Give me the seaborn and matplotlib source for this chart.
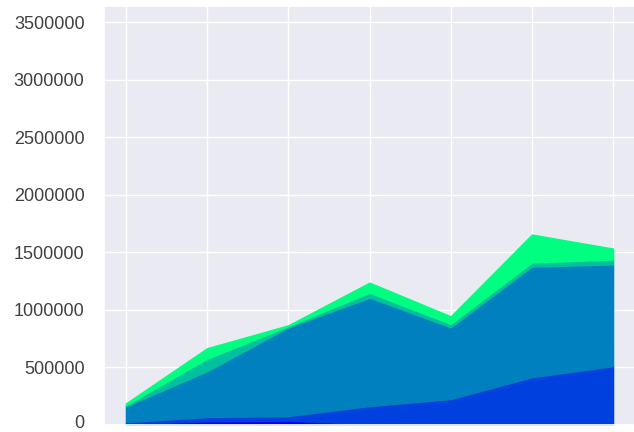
import numpy as np
import pandas as pd
import matplotlib
matplotlib.use('Agg')
import matplotlib.pyplot as plt
import matplotlib.transforms as mtransforms
from matplotlib.ticker import ScalarFormatter
import seaborn as sns

sns.set_theme(style='darkgrid')
plt.rcParams['font.family'] = ['Liberation Sans', 'DejaVu Sans']

# x positions (no visible labels in the crop)
steps = [0, 1, 2, 3, 4, 5, 6]

# stacked layers, bottom to top
layer_a = [5000, 30000, 35000, 5000, 2000, 2000, 2000]
layer_b = [18000, 37000, 40000, 157000, 221000, 411000, 507000]
layer_c = [137000, 398000, 772000, 943000, 624000, 962000, 884000]
layer_d = [10000, 110000, 10000, 43000, 30000, 35000, 43000]
layer_e = [15000, 90000, 7000, 87000, 65000, 243000, 95000]

df = pd.DataFrame({'a': layer_a, 'b': layer_b, 'c': layer_c,
                   'd': layer_d, 'e': layer_e}, index=steps)

colors = plt.get_cmap('winter')(np.linspace(0, 1, df.shape[1]))

fig = plt.figure(figsize=(6.34, 4.32), dpi=100)
ax = fig.add_axes([104 / 634, 7.3 / 432, 531 / 634, 418.7 / 432])
ax.stackplot(df.index, *[df[c] for c in df.columns], colors=colors,
             linewidth=1.0, edgecolor='face')

ax.set_xlim(-0.27, 6.27)
ax.set_ylim(0, 3640000)
ax.set_xticks(steps)
ax.set_xticklabels([])
ax.set_yticks(np.arange(0, 3500001, 500000))
fmt = ScalarFormatter(useOffset=False)
fmt.set_scientific(False)
ax.yaxis.set_major_formatter(fmt)
ax.tick_params(axis='y', labelsize=13, pad=8, colors='.25')

# lift the "0" label a touch so it stays inside the canvas
zero_label = ax.yaxis.get_major_ticks()[0].label1
zero_label.set_transform(zero_label.get_transform() +
                         mtransforms.ScaledTranslation(0, 2 / 72, fig.dpi_scale_trans))

fig.savefig('out.png', dpi=100)
